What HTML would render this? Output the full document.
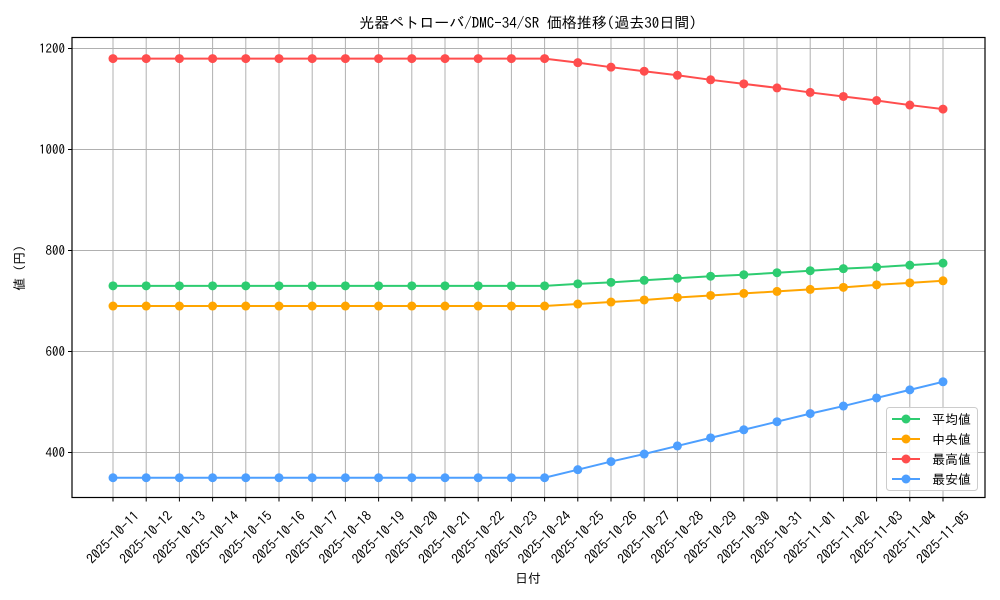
<!DOCTYPE html>
<html><head><meta charset="utf-8">
<style>
html,body{margin:0;padding:0;background:#fff;}
svg{display:block;font-family:"IPAGothic","Noto Sans CJK JP","Liberation Sans",sans-serif;}
</style></head>
<body>
<svg id="chart" width="1000" height="600" xmlns="http://www.w3.org/2000/svg"></svg>
<script>
const categories = ["2025-10-11","2025-10-12","2025-10-13","2025-10-14","2025-10-15","2025-10-16","2025-10-17","2025-10-18","2025-10-19","2025-10-20","2025-10-21","2025-10-22","2025-10-23","2025-10-24","2025-10-25","2025-10-26","2025-10-27","2025-10-28","2025-10-29","2025-10-30","2025-10-31","2025-11-01","2025-11-02","2025-11-03","2025-11-04","2025-11-05"];
const meanValues = [730,730,730,730,730,730,730,730,730,730,730,730,730,730,734,737,741,745,749,752,756,760,764,767,771,775];
const medianValues = [690,690,690,690,690,690,690,690,690,690,690,690,690,690,694,698,702,707,711,715,719,723,727,732,736,740];
const maxValues = [1180,1180,1180,1180,1180,1180,1180,1180,1180,1180,1180,1180,1180,1180,1172,1163,1155,1147,1138,1130,1122,1113,1105,1097,1088,1080];
const minValues = [350,350,350,350,350,350,350,350,350,350,350,350,350,350,366,382,397,413,429,445,461,477,492,508,524,540];
const yTicks = [400,600,800,1000,1200];
const seriesNames = ["平均値","中央値","最高値","最安値"];

const NS="http://www.w3.org/2000/svg";
const svg=document.getElementById('chart');
const L=72,R=985,T=37.5,B=497.5;
function xScale(i){return 113+(943-113)*i/(categories.length-1);}
function yScale(v){return 452.5-(v-400)*(404/800);}
function mk(tag,attrs,parent){const e=document.createElementNS(NS,tag);for(const k in attrs)e.setAttribute(k,attrs[k]);(parent||svg).appendChild(e);return e;}

let t=mk('text',{x:528,y:28,'text-anchor':'middle','font-size':15,fill:'#000'});


t.textContent="光器ペトローバ/DMC-34/SR 価格推移(過去30日間)";

const grid=mk('g',{});


categories.forEach((c,i)=>{mk('line',{x1:xScale(i),x2:xScale(i),y1:T,y2:B,stroke:'#b0b0b0','stroke-width':1},grid);});
yTicks.forEach(v=>{mk('line',{x1:L,x2:R,y1:yScale(v),y2:yScale(v),stroke:'#b0b0b0','stroke-width':1},grid);});

const ya=mk('g',{});


yTicks.forEach(v=>{
  const y=yScale(v);
  mk('line',{x1:L-4,x2:L,y1:y,y2:y,stroke:'#000'},ya);
  const tx=mk('text',{x:L-7,y:y+4.5,'text-anchor':'end','font-size':13,fill:'#000'},ya);
  
  
  tx.textContent=v;
});
const xa=mk('g',{});


categories.forEach((c,i)=>{
  const x=xScale(i);
  mk('line',{x1:x,x2:x,y1:B,y2:B+4,stroke:'#000'},xa);
  const cy=B+40;
  const tx=mk('text',{x:x,y:cy+4.5,'text-anchor':'middle','font-size':13.5,fill:'#000',transform:`rotate(-45 ${x} ${cy})`},xa);
  
  
  tx.textContent=c;
});

let xt=mk('text',{x:528,y:583,'text-anchor':'middle','font-size':13,fill:'#000'});


xt.textContent="日付";
let yt=mk('text',{x:24,y:268,'text-anchor':'middle','font-size':13,fill:'#000',transform:'rotate(-90 24 268)'});


yt.textContent="値 (円)";

const series=[[meanValues,'#2ecc71'],[medianValues,'#ffa500'],[maxValues,'#ff4d4d'],[minValues,'#4d9fff']];
series.forEach((s,k)=>{
  const g=mk('g',{});
  
  
  const pts=s[0].map((v,i)=>xScale(i)+','+yScale(v)).join(' ');
  mk('polyline',{points:pts,fill:'none',stroke:s[1],'stroke-width':2},g);
  s[0].forEach((v,i)=>{
    const c=mk('circle',{cx:xScale(i),cy:yScale(v),r:4.5,fill:s[1]},g);
    
    
  });
});

mk('rect',{x:L,y:T,width:R-L,height:B-T,fill:'none',stroke:'#000','stroke-width':1.2});

const lg=mk('g',{});


mk('rect',{x:886.5,y:407.5,width:91,height:83,rx:3,fill:'#fff','fill-opacity':0.85,stroke:'#ccc'},lg);
series.forEach((s,k)=>{
  const y=419+k*20;
  const e=mk('g',{},lg);
  
  
  mk('line',{x1:892,x2:920,y1:y,y2:y,stroke:s[1],'stroke-width':2},e);
  mk('circle',{cx:906,cy:y,r:4.5,fill:s[1]},e);
  const tx=mk('text',{x:932,y:y+5,'font-size':13,fill:'#000'},e);
  tx.textContent=seriesNames[k];
});
</script>
</body></html>
